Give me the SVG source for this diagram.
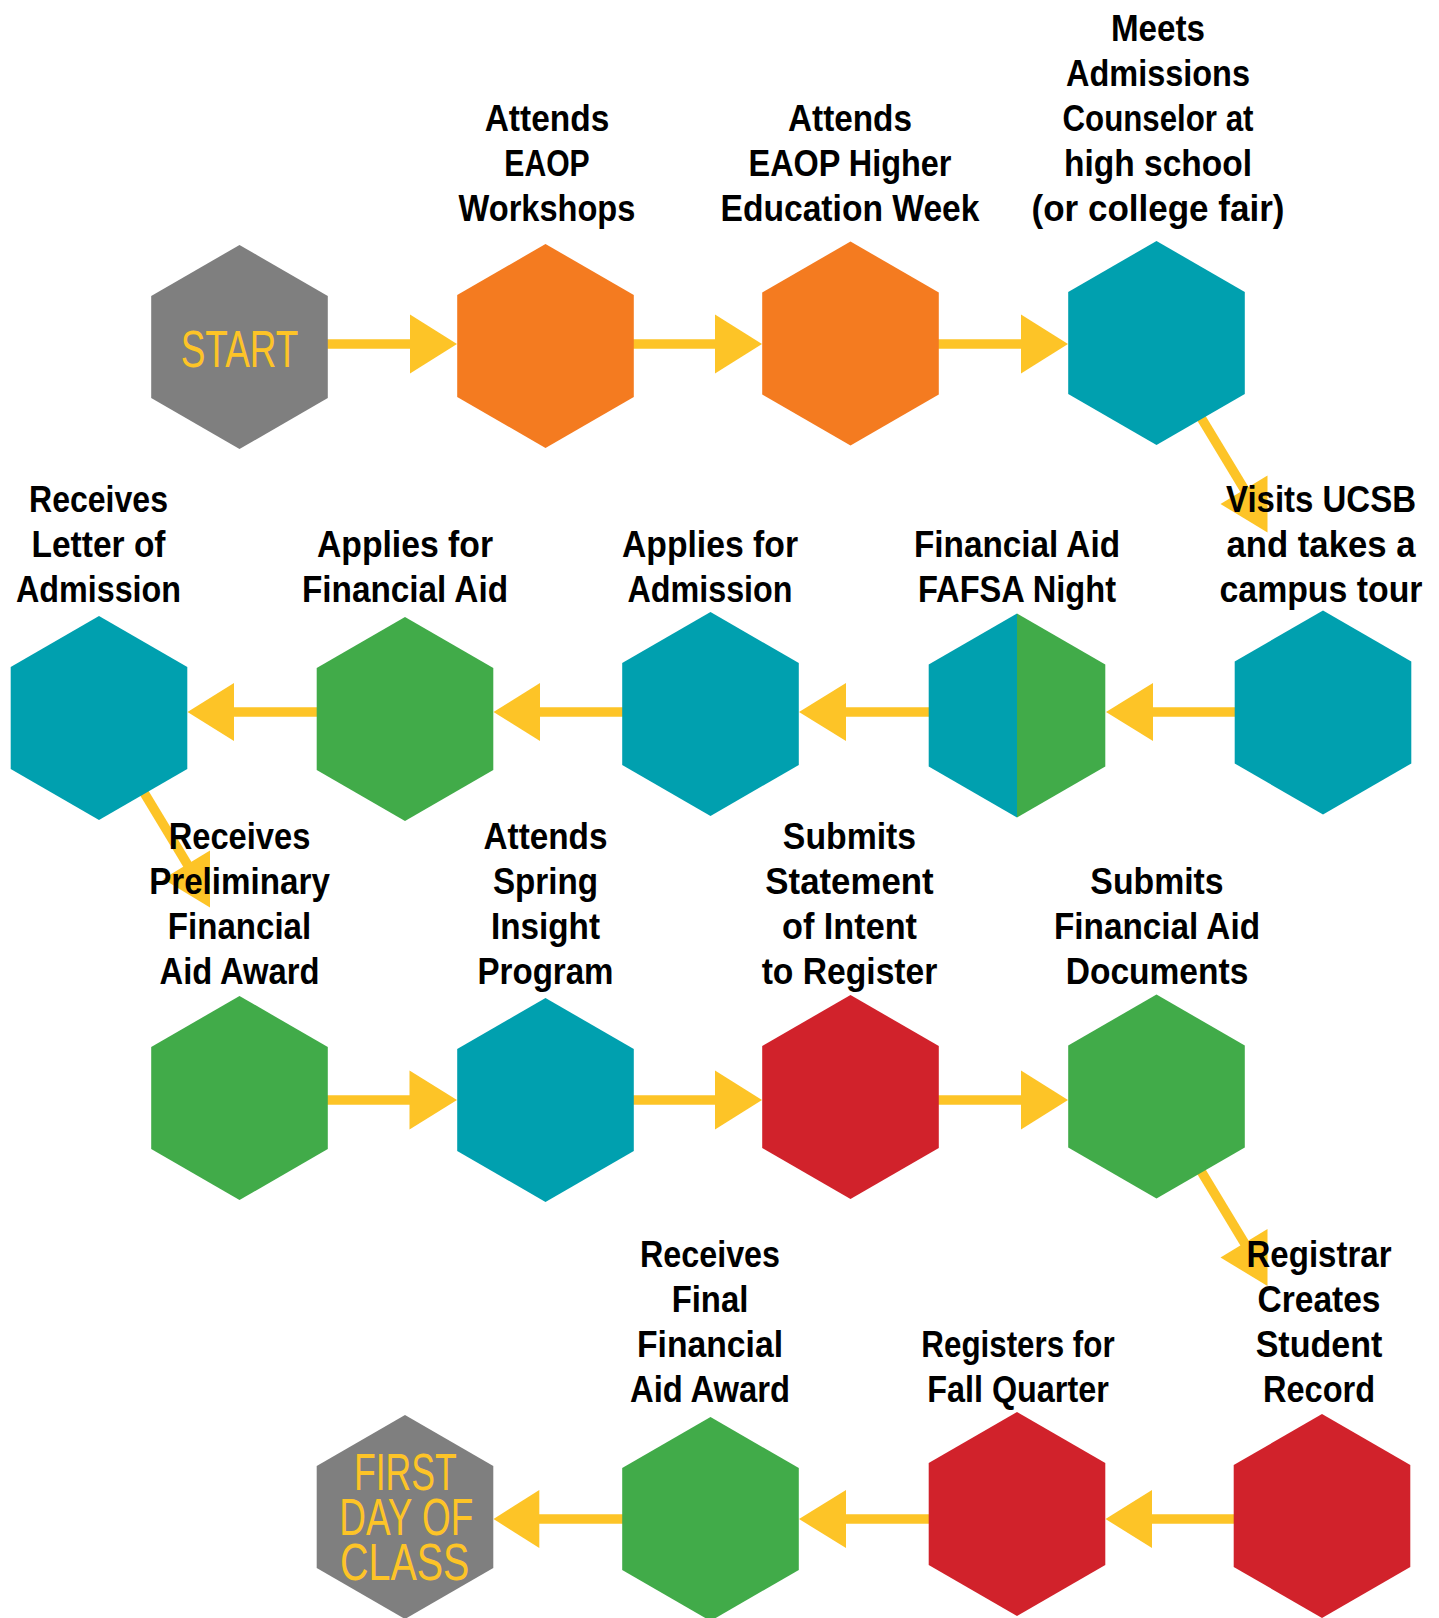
<svg xmlns="http://www.w3.org/2000/svg" xmlns:xlink="http://www.w3.org/1999/xlink" width="1439" height="1618" viewBox="0 0 1439 1618">
<style>
.lbl{font-family:"Liberation Sans",Arial,sans-serif;font-weight:bold;font-size:37px;fill:#000;text-anchor:middle}
.yl{font-family:"Liberation Sans",Arial,sans-serif;font-weight:normal;font-size:51px;fill:#FDC427;text-anchor:middle}
.ln{stroke:#FDC427;stroke-width:9.5;fill:none}
.hd{fill:#FDC427}
.gray{fill:#7F7F7F}.orange{fill:#F47B20}.teal{fill:#00A0AF}.green{fill:#41AB49}.red{fill:#D1222B}
</style>
<defs>
<polygon id="hex" points="0,-102 88.3,-51 88.3,51 0,102 -88.3,51 -88.3,-51"/>
</defs>
<rect width="1439" height="1618" fill="#fff"/>
<g id="connectors">
<line class="ln" x1="320" y1="344" x2="412" y2="344"/><polygon class="hd" points="410,314.5 457,344 410,373.5"/>
<line class="ln" x1="626" y1="344" x2="717" y2="344"/><polygon class="hd" points="715,314.5 762,344 715,373.5"/>
<line class="ln" x1="932" y1="344" x2="1023" y2="344"/><polygon class="hd" points="1021,314.5 1068,344 1021,373.5"/>
<line class="ln" x1="1191" y1="401" x2="1252" y2="502"/><polygon class="hd" points="1267.5,475.5 1267.5,532.5 1220.5,504"/>
<line class="ln" x1="1240" y1="712" x2="1151" y2="712"/><polygon class="hd" points="1153,683 1106,712 1153,741"/>
<line class="ln" x1="933" y1="712" x2="844" y2="712"/><polygon class="hd" points="846,683 799,712 846,741"/>
<line class="ln" x1="627" y1="712" x2="538" y2="712"/><polygon class="hd" points="540,683 493.5,712 540,741"/>
<line class="ln" x1="320" y1="712" x2="232" y2="712"/><polygon class="hd" points="234,683 187.5,712 234,741"/>
<line class="ln" x1="134" y1="776" x2="195" y2="877"/><polygon class="hd" points="210,850.5 210,907.5 163,879"/>
<line class="ln" x1="320" y1="1100" x2="411" y2="1100"/><polygon class="hd" points="409.5,1070.5 457,1100 409.5,1129.5"/>
<line class="ln" x1="626" y1="1100" x2="717" y2="1100"/><polygon class="hd" points="715,1070.5 762,1100 715,1129.5"/>
<line class="ln" x1="932" y1="1100" x2="1023" y2="1100"/><polygon class="hd" points="1021,1070.5 1068,1100 1021,1129.5"/>
<line class="ln" x1="1191" y1="1154.5" x2="1252" y2="1255.5"/><polygon class="hd" points="1267.5,1229 1267.5,1286 1220.5,1257.5"/>
<line class="ln" x1="1240" y1="1519" x2="1150" y2="1519"/><polygon class="hd" points="1152,1490 1105.5,1519 1152,1548"/>
<line class="ln" x1="933" y1="1519" x2="844" y2="1519"/><polygon class="hd" points="846,1490 799,1519 846,1548"/>
<line class="ln" x1="627" y1="1519" x2="537" y2="1519"/><polygon class="hd" points="539.3,1490 493.5,1519 539.3,1548"/>
</g>
<g id="n-start">
<use xlink:href="#hex" href="#hex" x="239.5" y="347" class="gray"/>
<text class="yl" x="239.5" y="366.5" textLength="117.5" lengthAdjust="spacingAndGlyphs">START</text>
</g>
<g id="n-eaop-workshops">
<use xlink:href="#hex" href="#hex" x="545.5" y="346" class="orange"/>
<text class="lbl" x="547" y="131" textLength="124.6" lengthAdjust="spacingAndGlyphs">Attends</text>
<text class="lbl" x="547" y="176" textLength="85.4" lengthAdjust="spacingAndGlyphs">EAOP</text>
<text class="lbl" x="547" y="221" textLength="176.8" lengthAdjust="spacingAndGlyphs">Workshops</text>
</g>
<g id="n-eaop-week">
<use xlink:href="#hex" href="#hex" x="850.5" y="343.5" class="orange"/>
<text class="lbl" x="850" y="131" textLength="124" lengthAdjust="spacingAndGlyphs">Attends</text>
<text class="lbl" x="850" y="176" textLength="203" lengthAdjust="spacingAndGlyphs">EAOP Higher</text>
<text class="lbl" x="850" y="221" textLength="259" lengthAdjust="spacingAndGlyphs">Education Week</text>
</g>
<g id="n-meets">
<use xlink:href="#hex" href="#hex" x="1156.5" y="343" class="teal"/>
<text class="lbl" x="1158" y="41" textLength="94" lengthAdjust="spacingAndGlyphs">Meets</text>
<text class="lbl" x="1158" y="86" textLength="184" lengthAdjust="spacingAndGlyphs">Admissions</text>
<text class="lbl" x="1158" y="131" textLength="191" lengthAdjust="spacingAndGlyphs">Counselor at</text>
<text class="lbl" x="1158" y="176" textLength="188" lengthAdjust="spacingAndGlyphs">high school</text>
<text class="lbl" x="1158" y="221" textLength="253" lengthAdjust="spacingAndGlyphs">(or college fair)</text>
</g>
<g id="n-visits">
<use xlink:href="#hex" href="#hex" x="1323" y="712.5" class="teal"/>
<text class="lbl" x="1321" y="511.5" textLength="190" lengthAdjust="spacingAndGlyphs">Visits UCSB</text>
<text class="lbl" x="1321" y="556.5" textLength="189" lengthAdjust="spacingAndGlyphs">and takes a</text>
<text class="lbl" x="1321" y="601.5" textLength="203" lengthAdjust="spacingAndGlyphs">campus tour</text>
</g>
<g id="n-fafsa">
<polygon class="teal" points="1017,613.5 1017,817.5 928.7,766.5 928.7,664.5"/>
<polygon class="green" points="1017,613.5 1105.3,664.5 1105.3,766.5 1017,817.5"/>
<text class="lbl" x="1017" y="556.5" textLength="206" lengthAdjust="spacingAndGlyphs">Financial Aid</text>
<text class="lbl" x="1017" y="601.5" textLength="198" lengthAdjust="spacingAndGlyphs">FAFSA Night</text>
</g>
<g id="n-apply-admission">
<use xlink:href="#hex" href="#hex" x="710.5" y="714" class="teal"/>
<text class="lbl" x="710" y="556.5" textLength="176" lengthAdjust="spacingAndGlyphs">Applies for</text>
<text class="lbl" x="710" y="601.5" textLength="165" lengthAdjust="spacingAndGlyphs">Admission</text>
</g>
<g id="n-apply-aid">
<use xlink:href="#hex" href="#hex" x="405" y="719" class="green"/>
<text class="lbl" x="405" y="556.5" textLength="176" lengthAdjust="spacingAndGlyphs">Applies for</text>
<text class="lbl" x="405" y="601.5" textLength="206" lengthAdjust="spacingAndGlyphs">Financial Aid</text>
</g>
<g id="n-letter">
<use xlink:href="#hex" href="#hex" x="99" y="718" class="teal"/>
<text class="lbl" x="98.5" y="511.5" textLength="139" lengthAdjust="spacingAndGlyphs">Receives</text>
<text class="lbl" x="98.5" y="556.5" textLength="134" lengthAdjust="spacingAndGlyphs">Letter of</text>
<text class="lbl" x="98.5" y="601.5" textLength="165" lengthAdjust="spacingAndGlyphs">Admission</text>
</g>
<g id="n-prelim">
<use xlink:href="#hex" href="#hex" x="239.5" y="1098" class="green"/>
<text class="lbl" x="239.5" y="849" textLength="141.7" lengthAdjust="spacingAndGlyphs">Receives</text>
<text class="lbl" x="239.5" y="894" textLength="180.7" lengthAdjust="spacingAndGlyphs">Preliminary</text>
<text class="lbl" x="239.5" y="939" textLength="143.3" lengthAdjust="spacingAndGlyphs">Financial</text>
<text class="lbl" x="239.5" y="984" textLength="160" lengthAdjust="spacingAndGlyphs">Aid Award</text>
</g>
<g id="n-spring">
<use xlink:href="#hex" href="#hex" x="545.5" y="1100" class="teal"/>
<text class="lbl" x="545.5" y="849" textLength="124" lengthAdjust="spacingAndGlyphs">Attends</text>
<text class="lbl" x="545.5" y="894" textLength="105" lengthAdjust="spacingAndGlyphs">Spring</text>
<text class="lbl" x="545.5" y="939" textLength="109" lengthAdjust="spacingAndGlyphs">Insight</text>
<text class="lbl" x="545.5" y="984" textLength="136" lengthAdjust="spacingAndGlyphs">Program</text>
</g>
<g id="n-statement">
<use xlink:href="#hex" href="#hex" x="850.5" y="1097" class="red"/>
<text class="lbl" x="849.5" y="849" textLength="133.3" lengthAdjust="spacingAndGlyphs">Submits</text>
<text class="lbl" x="849.5" y="894" textLength="168.3" lengthAdjust="spacingAndGlyphs">Statement</text>
<text class="lbl" x="849.5" y="939" textLength="135" lengthAdjust="spacingAndGlyphs">of Intent</text>
<text class="lbl" x="849.5" y="984" textLength="175.7" lengthAdjust="spacingAndGlyphs">to Register</text>
</g>
<g id="n-submit-docs">
<use xlink:href="#hex" href="#hex" x="1156.5" y="1096.5" class="green"/>
<text class="lbl" x="1157" y="894" textLength="133.3" lengthAdjust="spacingAndGlyphs">Submits</text>
<text class="lbl" x="1157" y="939" textLength="206" lengthAdjust="spacingAndGlyphs">Financial Aid</text>
<text class="lbl" x="1157" y="984" textLength="182.6" lengthAdjust="spacingAndGlyphs">Documents</text>
</g>
<g id="n-registrar">
<use xlink:href="#hex" href="#hex" x="1322" y="1516" class="red"/>
<text class="lbl" x="1319" y="1267" textLength="145" lengthAdjust="spacingAndGlyphs">Registrar</text>
<text class="lbl" x="1319" y="1312" textLength="123" lengthAdjust="spacingAndGlyphs">Creates</text>
<text class="lbl" x="1319" y="1357" textLength="126.7" lengthAdjust="spacingAndGlyphs">Student</text>
<text class="lbl" x="1319" y="1402" textLength="112" lengthAdjust="spacingAndGlyphs">Record</text>
</g>
<g id="n-registers">
<use xlink:href="#hex" href="#hex" x="1017" y="1514" class="red"/>
<text class="lbl" x="1018" y="1357" textLength="193.3" lengthAdjust="spacingAndGlyphs">Registers for</text>
<text class="lbl" x="1018" y="1402" textLength="181.7" lengthAdjust="spacingAndGlyphs">Fall Quarter</text>
</g>
<g id="n-final">
<use xlink:href="#hex" href="#hex" x="710.5" y="1519" class="green"/>
<text class="lbl" x="710" y="1267" textLength="140" lengthAdjust="spacingAndGlyphs">Receives</text>
<text class="lbl" x="710" y="1312" textLength="76.7" lengthAdjust="spacingAndGlyphs">Final</text>
<text class="lbl" x="710" y="1357" textLength="146" lengthAdjust="spacingAndGlyphs">Financial</text>
<text class="lbl" x="710" y="1402" textLength="160" lengthAdjust="spacingAndGlyphs">Aid Award</text>
</g>
<g id="n-first-day">
<use xlink:href="#hex" href="#hex" x="405" y="1517" class="gray"/>
<text class="yl" x="405.3" y="1490" textLength="102.7" lengthAdjust="spacingAndGlyphs">FIRST</text>
<text class="yl" x="406.3" y="1535" textLength="134" lengthAdjust="spacingAndGlyphs">DAY OF</text>
<text class="yl" x="404.7" y="1580" textLength="129.3" lengthAdjust="spacingAndGlyphs">CLASS</text>
</g>
</svg>
